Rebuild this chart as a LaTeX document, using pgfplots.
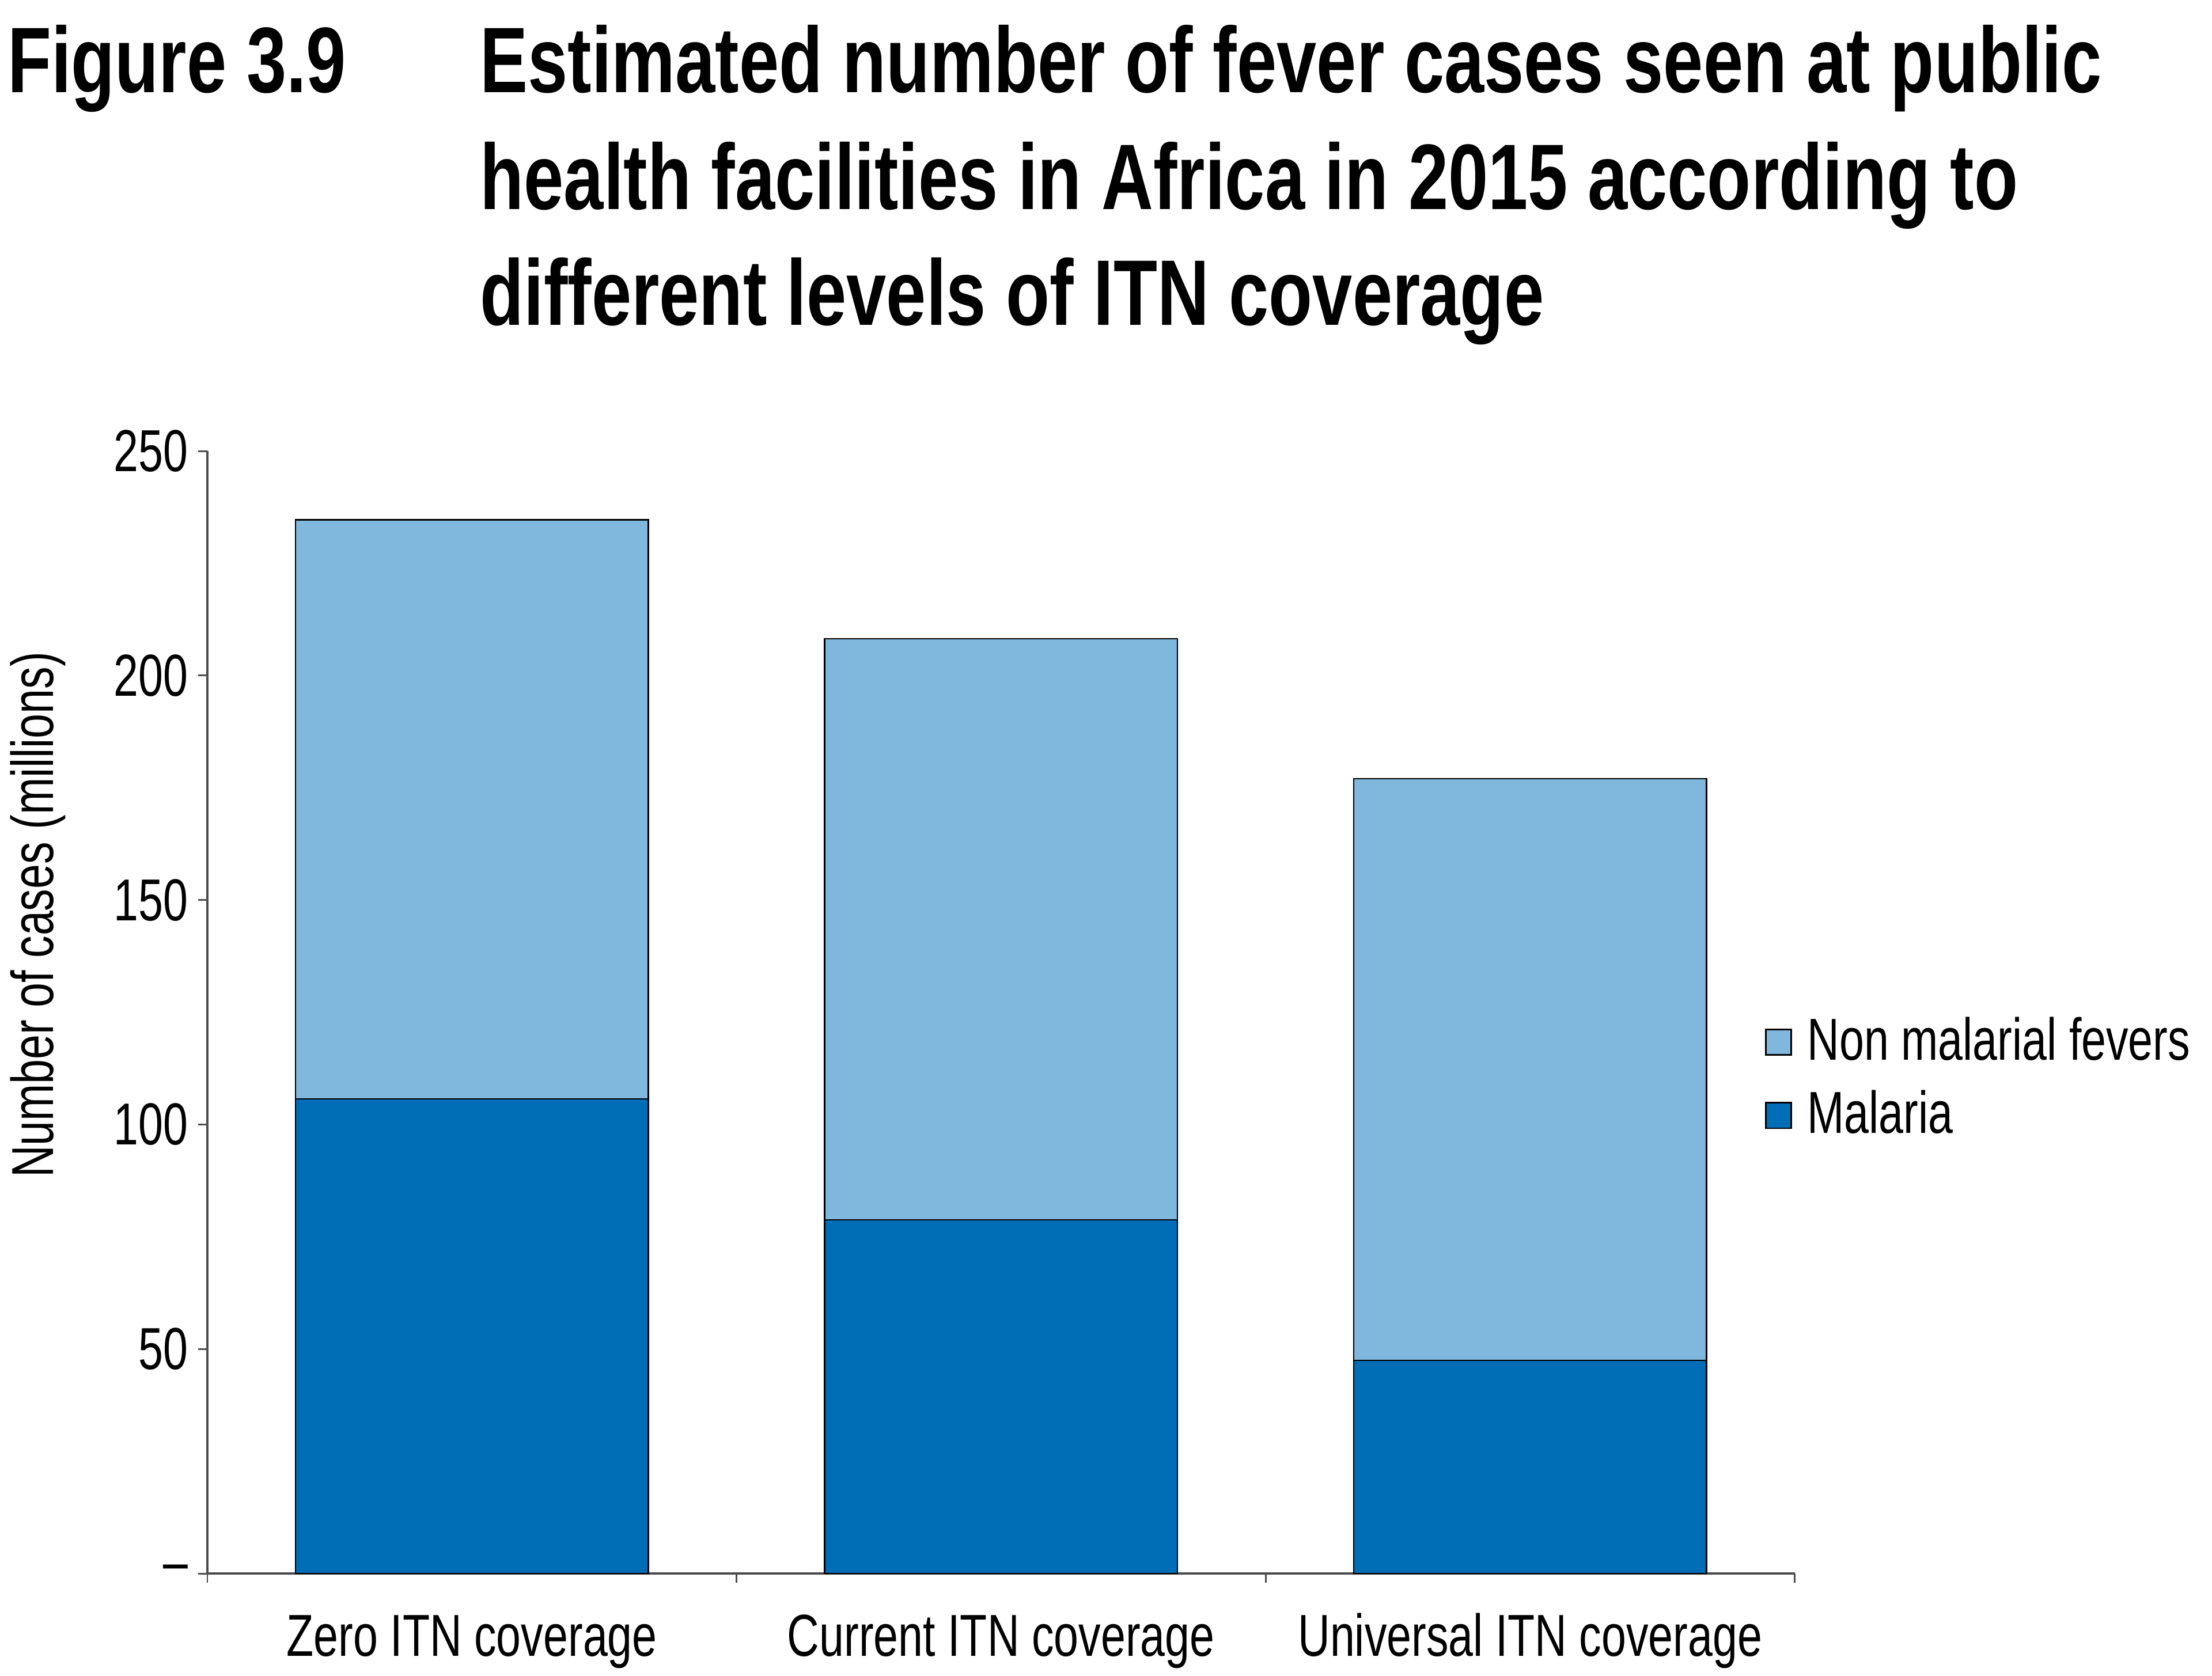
\documentclass[border=0pt]{standalone}
\usepackage{pgfplots}
\pgfplotsset{compat=1.18}
\usepackage{fontspec}
\setmainfont{Liberation Sans}[FakeStretch=0.75]
\newfontfamily\titlefont{Liberation Sans}[FakeStretch=0.77]
\definecolor{lightb}{RGB}{128,183,220}
\definecolor{darkb}{RGB}{0,110,182}
\begin{document}
\begin{tikzpicture}
\path[use as bounding box] (-73.5pt,-36.3pt) rectangle (710.5pt,557.8pt);
\begin{axis}[
  at={(0pt,0pt)}, anchor=south west,
  scale only axis, width=562.6pt, height=397.9pt,
  xmin=-0.5, xmax=2.5, ymin=0, ymax=250,
  enlargelimits=false,
  axis x line*=bottom, axis y line*=left,
  axis line style={-, draw=black!70, line width=0.8pt},
  xtick={0,1,2},
  xticklabels={Zero ITN coverage, Current ITN coverage, Universal ITN coverage},
  major x tick style={draw=none},
  minor xtick={-0.5,0.5,1.5,2.5},
  ytick={0,50,100,150,200,250},
  yticklabels={--,50,100,150,200,250},
  tick align=outside,
  major tick length=3.2pt, minor tick length=3.2pt,
  tick style={draw=black!70, line width=0.6pt},
  /pgf/number format/assume math mode=true,
  ticklabel style={font=\fontsize{21}{25}\selectfont},
  yticklabel style={anchor=east, inner sep=0pt, xshift=-3.5pt},
  xticklabel style={anchor=base, inner sep=0pt, yshift=-26pt},
  ybar stacked, bar width=0.667,
  reverse legend,
  legend style={at={(0.981,0.44)}, anchor=west, draw=none, fill=none,
    inner sep=0pt, row sep=6pt,
    font=\fontsize{21}{25}\selectfont,
    nodes={inner sep=0pt, text height=16pt, text depth=4pt}},
  legend cell align=left,
  legend image code/.code={\draw[#1, line width=0.5pt] (0pt,-4.2pt) rectangle (9pt,4.8pt);},
]
\addplot[fill=darkb, draw=black, line width=0.5pt] coordinates {(0,105.7) (1,78.8) (2,47.5)};
\addlegendentry{\hspace{5.5pt}Malaria}
\addplot[fill=lightb, draw=black, line width=0.5pt] coordinates {(0,129.0) (1,129.4) (2,129.5)};
\addlegendentry{\hspace{5.5pt}Non malarial fevers}
\end{axis}
\node[rotate=90, anchor=center, font=\fontsize{21}{25}\selectfont] at (-60pt,233.5pt) {Number of cases (millions)};
\tikzset{ttl/.style={anchor=base west, inner sep=0pt, font=\titlefont\bfseries\fontsize{33}{41.5}\selectfont}}
\node[ttl] at (-71pt,525pt) {Figure 3.9};
\node[ttl] at (96.5pt,525pt) {Estimated number of fever cases seen at public};
\node[ttl] at (96.5pt,483.5pt) {health facilities in Africa in 2015 according to};
\node[ttl] at (96.5pt,442.5pt) {different levels of ITN coverage};
\end{tikzpicture}
\end{document}
